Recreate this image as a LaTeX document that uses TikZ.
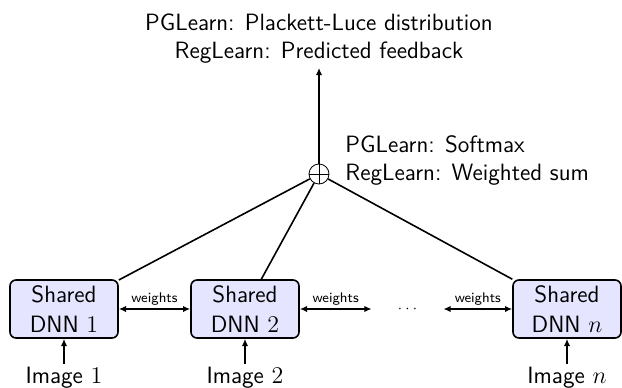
\documentclass[tikz,border=0pt]{standalone}
\usetikzlibrary{arrows.meta}
\begin{document}
\begin{tikzpicture}[x=0.5pt,y=-0.5pt,
  dnn/.style={draw, thick, rounded corners=3pt, fill=blue!10, minimum width=54pt, minimum height=29pt, align=center, inner sep=0pt, font=\fontsize{11.8}{15}\selectfont\sffamily},
  lbl/.style={font=\fontsize{11.8}{14}\selectfont\sffamily, inner sep=1pt},
  wlbl/.style={font=\sffamily\scriptsize, above, inner sep=1.5pt},
  conn/.style={thick},
  tip/.tip={Latex[length=3.6pt,width=3.2pt]},
  arr/.style={thick, -tip},
  darr/.style={thick, tip-tip},
  sumnode/.style={circle, draw, minimum size=10pt, inner sep=0pt,
    path picture={\draw (path picture bounding box.north) -- (path picture bounding box.south)
                        (path picture bounding box.west) -- (path picture bounding box.east);}}]
\useasboundingbox (0,0) rectangle (622,387);
\node[dnn] (b1) at (64,309) {Shared\\DNN $1$};
\node[dnn] (b2) at (245,309) {Shared\\DNN $2$};
\node[dnn] (bn) at (567,309) {Shared\\DNN $n$};
\node[minimum width=35.5pt, inner sep=0pt, font=\scriptsize] (dots) at (407.5,309) {$\cdots$};
\node[lbl, anchor=base] (i1) at (64,383) {Image $1$};
\node[lbl, anchor=base] (i2) at (245,383) {Image $2$};
\node[lbl, anchor=base] (in) at (567,383) {Image $n$};
\node[sumnode] (sum) at (319,174) {};
\node[lbl, align=center, inner sep=2pt, anchor=south] (out) at (319,68) {PGLearn: Plackett-Luce distribution\\RegLearn: Predicted feedback};
\node[lbl, align=left, anchor=base west] (agg) at (343,180) {PGLearn: Softmax\\RegLearn: Weighted sum};
\draw[arr] (i1) -- (b1);
\draw[arr] (i2) -- (b2);
\draw[arr] (in) -- (bn);
\draw[conn] (sum) -- (b1);
\draw[conn] (sum) -- (b2);
\draw[conn] (sum) -- (bn);
\draw[semithick, -tip] (sum) -- (out);
\draw[darr] (b1) -- node[wlbl] {weights} (b2);
\draw[darr] (b2) -- node[wlbl] {weights} (dots);
\draw[darr] (dots) -- node[wlbl] {weights} (bn);
\end{tikzpicture}
\end{document}
